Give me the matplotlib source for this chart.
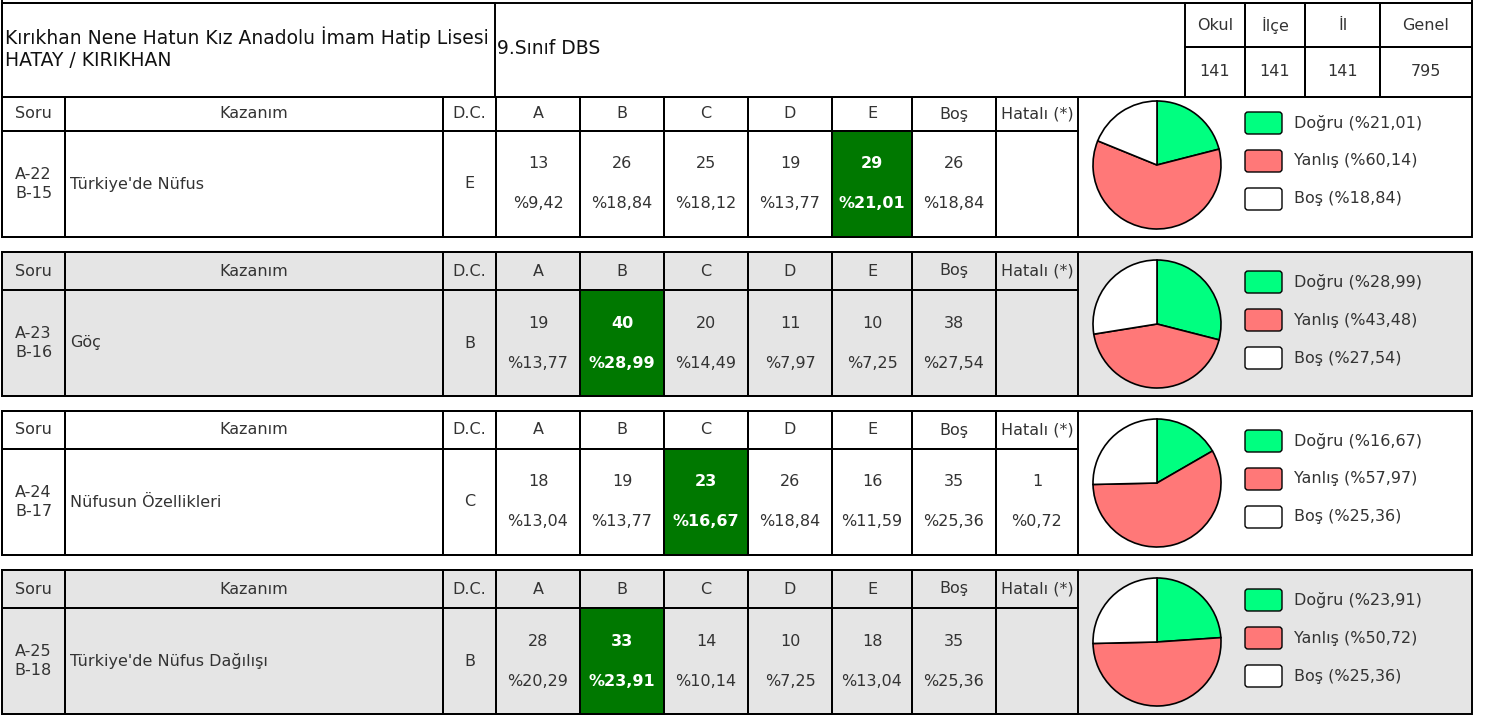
import matplotlib.pyplot as plt
from matplotlib.patches import Rectangle, FancyBboxPatch

plt.rcParams['font.family'] = ['DejaVu Sans']

# header info
school = "Kırıkhan Nene Hatun Kız Anadolu İmam Hatip Lisesi"
place = "HATAY / KIRIKHAN"
exam = "9.Sınıf DBS"
level_names = ["Okul", "İlçe", "İl", "Genel"]
level_counts = [141, 141, 141, 795]

# per-question data
questions = ["A-22\nB-15", "A-23\nB-16", "A-24\nB-17", "A-25\nB-18"]
kazanim = ["Türkiye'de Nüfus", "Göç", "Nüfusun Özellikleri", "Türkiye'de Nüfus Dağılışı"]
answers = ["E", "B", "C", "B"]
options = ["A", "B", "C", "D", "E", "Boş"]
counts = [
    [13, 26, 25, 19, 29, 26],
    [19, 40, 20, 11, 10, 38],
    [18, 19, 23, 26, 16, 35],
    [28, 33, 14, 10, 18, 35],
]
percents = [
    ["%9,42", "%18,84", "%18,12", "%13,77", "%21,01", "%18,84"],
    ["%13,77", "%28,99", "%14,49", "%7,97", "%7,25", "%27,54"],
    ["%13,04", "%13,77", "%16,67", "%18,84", "%11,59", "%25,36"],
    ["%20,29", "%23,91", "%10,14", "%7,25", "%13,04", "%25,36"],
]
hatali = [None, None, (1, "%0,72"), None]
dogru = [21.01, 28.99, 16.67, 23.91]
yanlis = [60.14, 43.48, 57.97, 50.72]
bos = [18.84, 27.54, 25.36, 25.36]

pie_colors = ["#00ff80", "#ff7878", "#ffffff"]
correct_bg = "#007800"
gray_bg = "#e5e5e5"
txt = "#333333"
lw = 1.4
fs = 11.5

W, H = 1488, 720
fig = plt.figure(figsize=(W / 100, H / 100), dpi=100)
ax = fig.add_axes([0, 0, 1, 1])
ax.set_xlim(0, W)
ax.set_ylim(H, 0)
ax.axis("off")


def box(x0, y0, x1, y1, fc="none", z=1):
    ax.add_patch(Rectangle((x0, y0), x1 - x0, y1 - y0, facecolor=fc,
                           edgecolor="black", lw=lw, zorder=z))


# ---- top header ----
ax.plot([2, 2], [0, 3], color="black", lw=lw)
ax.plot([1472, 1472], [0, 3], color="black", lw=lw)
box(2, 3, 1472, 97)
box(2, 3, 495, 97)
ax.text(5, 37, school, fontsize=13.5, color="#111111", va="center", ha="left")
ax.text(5, 60, place, fontsize=13.5, color="#111111", va="center", ha="left")
ax.text(497, 48, exam, fontsize=13.5, color="#111111", va="center", ha="left")
lx = [1185, 1245, 1305, 1380, 1472]
for i, (nm, c) in enumerate(zip(level_names, level_counts)):
    box(lx[i], 3, lx[i + 1], 47)
    box(lx[i], 47, lx[i + 1], 97)
    xc = (lx[i] + lx[i + 1]) / 2
    ax.text(xc, 25, nm, fontsize=fs, color=txt, ha="center", va="center")
    ax.text(xc, 72, str(c), fontsize=fs, color=txt, ha="center", va="center")

# ---- question blocks ----
cols = [2, 65, 443, 496, 580, 664, 748, 832, 912, 996, 1078]
tops = [97, 252, 411, 570]
heads = [131, 290, 449, 608]
bottoms = [237, 396, 555, 714]
headers = ["Soru", "Kazanım", "D.C."] + options + ["Hatalı (*)"]

for q in range(len(questions)):
    t, hb, b = tops[q], heads[q], bottoms[q]
    bg = gray_bg if q % 2 == 1 else "white"
    box(2, t, 1472, b, fc=bg, z=0)
    for i in range(len(cols) - 1):
        box(cols[i], t, cols[i + 1], hb)
        box(cols[i], hb, cols[i + 1], b)
        xc = (cols[i] + cols[i + 1]) / 2
        ax.text(xc, (t + hb) / 2, headers[i], fontsize=fs, color=txt,
                ha="center", va="center")
    mid = (hb + b) / 2
    ax.text((cols[0] + cols[1]) / 2, mid, questions[q], fontsize=fs,
            color=txt, ha="center", va="center", linespacing=1.3)
    ax.text(cols[1] + 5, mid, kazanim[q], fontsize=fs, color=txt,
            ha="left", va="center")
    ax.text((cols[2] + cols[3]) / 2, mid, answers[q], fontsize=fs,
            color=txt, ha="center", va="center")
    for j, opt in enumerate(options):
        x0, x1 = cols[3 + j], cols[4 + j]
        xc = (x0 + x1) / 2
        is_ok = opt == answers[q]
        if is_ok:
            box(x0, hb, x1, b, fc=correct_bg, z=2)
        kw = dict(fontsize=fs, ha="center", va="center", zorder=3,
                  color="white" if is_ok else txt,
                  fontweight="bold" if is_ok else "normal")
        ax.text(xc, mid - 20, str(counts[q][j]), **kw)
        ax.text(xc, mid + 20, percents[q][j], **kw)
    if hatali[q] is not None:
        xc = (cols[9] + cols[10]) / 2
        ax.text(xc, mid - 20, str(hatali[q][0]), fontsize=fs, color=txt,
                ha="center", va="center")
        ax.text(xc, mid + 20, hatali[q][1], fontsize=fs, color=txt,
                ha="center", va="center")

    # pie
    cx, cy, r = 1157, (t + b) / 2 if q else 165, 64
    s = 1.03
    pax = fig.add_axes([(cx - r * s) / W, 1 - (cy + r * s) / H,
                        2 * r * s / W, 2 * r * s / H])
    pax.pie([dogru[q], yanlis[q], bos[q]], colors=pie_colors, startangle=90,
            counterclock=False, radius=1,
            wedgeprops=dict(edgecolor="black", linewidth=1.2))
    pax.set_xlim(-s, s)
    pax.set_ylim(-s, s)
    pax.axis("off")

    # legend
    labels = [f"Doğru (%{dogru[q]:.2f})".replace(".", ","),
              f"Yanlış (%{yanlis[q]:.2f})".replace(".", ","),
              f"Boş (%{bos[q]:.2f})".replace(".", ",")]
    ly0 = b - 144
    for k, lab in enumerate(labels):
        yc = ly0 + 30 + 38 * k
        ax.add_patch(FancyBboxPatch((1245, yc - 11), 37, 22,
                                    boxstyle="round,pad=0,rounding_size=3",
                                    facecolor=pie_colors[k], edgecolor="black",
                                    lw=1.0, zorder=3))
        ax.text(1294, yc, lab, fontsize=fs, color=txt, ha="left", va="center")

fig.savefig("out.png", dpi=100)
